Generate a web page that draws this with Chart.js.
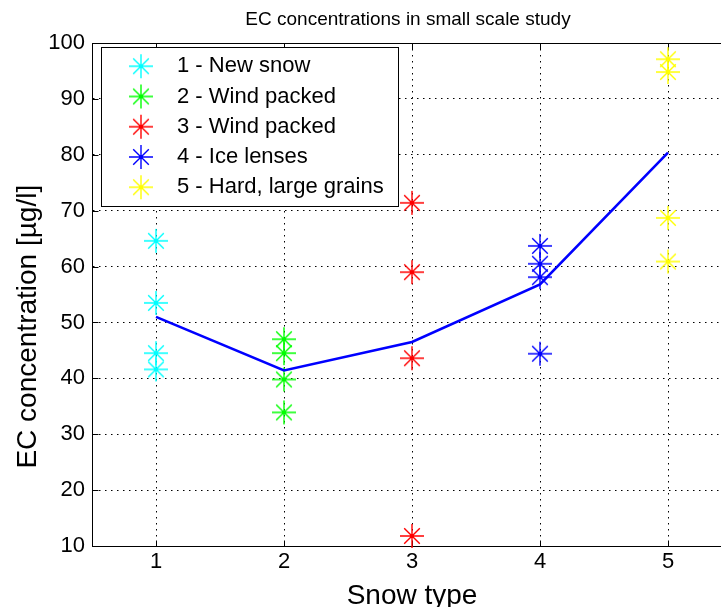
<!DOCTYPE html>
<html><head><meta charset="utf-8">
<script src="https://cdn.jsdelivr.net/npm/chart.js@4.4.1/dist/chart.umd.min.js"></script>
<style>
html,body{margin:0;padding:0;overflow:hidden;background:#fff;width:721px;height:607px}
#wrap{position:absolute;left:0;top:0;width:800px;height:630px}
canvas{display:block}
</style></head>
<body><div id="wrap"><canvas id="c" width="800" height="630"></canvas></div>
<script>
// ---- data ----
const snowTypes = [1, 2, 3, 4, 5];
const typeNames = ['1 - New snow', '2 - Wind packed', '3 - Wind packed', '4 - Ice lenses', '5 - Hard, large grains'];
const typeColors = ['#00ffff', '#00ff00', '#ff0000', '#0000ff', '#ffff00'];
const newSnow = [64.6, 53.5, 44.5, 41.6];
const windPacked2 = [47.0, 44.5, 39.8, 33.9];
const windPacked3 = [71.4, 59.0, 43.6, 11.8];
const iceLenses = [63.7, 60.5, 58.1, 44.4];
const hardLargeGrains = [97.1, 94.8, 68.7, 60.9];
const meanConcentration = [51.0, 41.4, 46.5, 56.8, 80.4];
const yTicks = [10, 20, 30, 40, 50, 60, 70, 80, 90, 100];
const yAxisLabel = 'EC concentration [µg/l]';

const FONT = "'Liberation Sans', Arial, Helvetica, sans-serif";
Chart.defaults.font.family = FONT;
Chart.defaults.color = '#000';

function starMarker(color) {
  const r = 12, s = 2 * r + 2, m = s / 2;
  const c = document.createElement('canvas');
  c.width = s; c.height = s;
  const g = c.getContext('2d');
  g.strokeStyle = color; g.lineWidth = 1.4;
  g.beginPath();
  g.moveTo(m - r, m); g.lineTo(m + r, m);
  g.moveTo(m, m - r); g.lineTo(m, m + r);
  const d = r * 0.65;
  g.moveTo(m - d, m - d); g.lineTo(m + d, m + d);
  g.moveTo(m - d, m + d); g.lineTo(m + d, m - d);
  g.stroke();
  g.fillStyle = color;
  g.beginPath(); g.arc(m, m, 2, 0, Math.PI * 2); g.fill();
  return c;
}

const seriesValues = [newSnow, windPacked2, windPacked3, iceLenses, hardLargeGrains];

const datasets = [{
  type: 'line',
  label: 'Mean',
  data: snowTypes.map((x, i) => ({x: x, y: meanConcentration[i]})),
  borderColor: '#0000ff',
  backgroundColor: '#0000ff',
  borderWidth: 2.6,
  pointRadius: 0,
  showLine: true,
  fill: false,
  tension: 0
}].concat(seriesValues.map((vals, k) => ({
  label: typeNames[k],
  data: vals.map(v => ({x: snowTypes[k], y: v})),
  pointStyle: starMarker(typeColors[k]),
  pointRadius: 12,
  showLine: false,
  clip: false,
  borderColor: typeColors[k],
  backgroundColor: typeColors[k]
})));

const LEG = {dx: 9, dy: 4, w: 297, h: 159};

const matlabPlugin = {
  id: 'matlabLook',
  afterLayout(chart) {
    const ca = chart.chartArea;
    const t = chart.titleBlock;
    if (t) { t.left = ca.left; t.right = ca.right - 8; t.width = t.right - t.left; }
    const lg = chart.legend;
    if (lg) {
      const bx = ca.left + LEG.dx, by = ca.top + LEG.dy;
      lg.left = bx + 6.75;
      lg.top = by;
      lg.right = bx + LEG.w;
      lg.bottom = ca.bottom;
      lg.width = lg.right - lg.left;
      lg.height = lg.bottom - lg.top;
    }
  },
  beforeDatasetsDraw(chart) {
    const ctx = chart.ctx, ca = chart.chartArea;
    const xs = chart.scales.x, ys = chart.scales.y;
    ctx.save();
    ctx.strokeStyle = '#000';
    ctx.lineWidth = 1;
    ctx.beginPath();
    const top = Math.round(ca.top) + 0.5, right = Math.round(ca.right) + 0.5;
    const bottom = Math.round(ca.bottom) + 0.5, left = Math.round(ca.left) + 0.5;
    ctx.moveTo(left, top); ctx.lineTo(right, top);
    const tl = 6;
    xs.ticks.forEach(t => {
      const px = Math.round(xs.getPixelForValue(t.value)) + 0.5;
      ctx.moveTo(px, bottom); ctx.lineTo(px, bottom - tl);
      ctx.moveTo(px, top); ctx.lineTo(px, top + tl);
    });
    ys.ticks.forEach(t => {
      const py = Math.round(ys.getPixelForValue(t.value)) + 0.5;
      ctx.moveTo(left, py); ctx.lineTo(left + tl, py);
    });
    ctx.stroke();
    // legend box
    const bx = Math.round(ca.left + LEG.dx) + 0.5, by = Math.round(ca.top + LEG.dy) + 0.5;
    ctx.fillStyle = '#fff';
    ctx.fillRect(bx, by, LEG.w, LEG.h);
    ctx.strokeRect(bx, by, LEG.w, LEG.h);
    ctx.restore();
    if (chart.legend) chart.legend.draw();
  },
  afterDraw(chart) {
    // y-axis label, placed as in the reference (slightly below the axis centre)
    const ctx = chart.ctx, ca = chart.chartArea;
    ctx.save();
    ctx.translate(ca.left - 56, ca.top + (ca.bottom - ca.top) * 0.564);
    ctx.rotate(-Math.PI / 2);
    ctx.font = '28px ' + FONT;
    ctx.fillStyle = '#000';
    ctx.textAlign = 'center';
    ctx.textBaseline = 'alphabetic';
    ctx.fillText(yAxisLabel, 0, 0);
    ctx.restore();
  }
};

new Chart(document.getElementById('c'), {
  type: 'scatter',
  data: {datasets: datasets},
  options: {
    responsive: false,
    animation: false,
    events: [],
    layout: {padding: {left: 0, right: 68, top: 0, bottom: 0}},
    plugins: {
      title: {
        display: true,
        text: 'EC concentrations in small scale study',
        font: {family: FONT, size: 19, weight: 'normal'},
        color: '#000',
        padding: {top: 8, bottom: 12.2}
      },
      legend: {
        position: 'chartArea',
        align: 'start',
        labels: {
          usePointStyle: true,
          pointStyleWidth: 50,
          boxHeight: 22,
          padding: 8.25,
          color: '#000',
          font: {family: FONT, size: 22},
          filter: item => item.datasetIndex > 0
        }
      },
      tooltip: {enabled: false}
    },
    scales: {
      x: {
        type: 'linear',
        min: 0.5,
        max: 5.5,
        afterBuildTicks: s => { s.ticks = snowTypes.map(v => ({value: v})); },
        afterFit: s => { s.height = 84; },
        ticks: {font: {family: FONT, size: 22}, color: '#000', padding: 3},
        grid: {color: '#000', lineWidth: 1, drawTicks: false},
        border: {display: true, color: '#000', width: 1, dash: [1.5, 4.5]},
        title: {display: true, text: 'Snow type', color: '#000',
                font: {family: FONT, size: 28}, padding: {top: 0, bottom: 17}}
      },
      y: {
        type: 'linear',
        min: 10,
        max: 100,
        afterBuildTicks: s => { s.ticks = yTicks.map(v => ({value: v})); },
        afterFit: s => { s.width = 92; },
        ticks: {font: {family: FONT, size: 22}, color: '#000', padding: 7},
        grid: {color: '#000', lineWidth: 1, drawTicks: false},
        border: {display: true, color: '#000', width: 1, dash: [1.5, 4.5]},
        title: {display: false, text: yAxisLabel}
      }
    }
  },
  plugins: [matlabPlugin]
});
</script>
</body></html>
